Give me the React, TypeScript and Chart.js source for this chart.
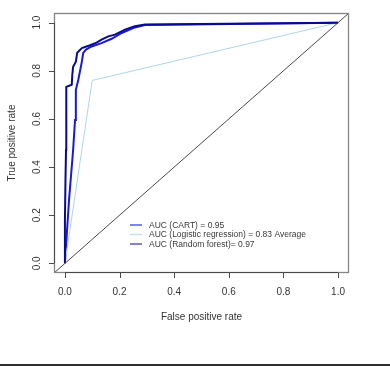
import React, { useEffect, useRef } from "react";
import { Chart, registerables } from "chart.js";

Chart.register(...registerables);

// ---- data ----
const tickValues = [0, 0.2, 0.4, 0.6, 0.8, 1.0];
const tickLabels = ["0.0", "0.2", "0.4", "0.6", "0.8", "1.0"];
const xTitle = "False positive rate";
const yTitle = "True positive rate";

const axisMin = -0.04;
const axisMax = 1.04;

const cartFpr = [0, 0.015, 0.03, 0.037, 0.04, 0.049, 0.061, 0.067, 0.077, 0.098, 0.134, 0.171, 0.208, 0.256, 0.293, 1];
const cartTpr = [0, 0.263, 0.471, 0.596, 0.721, 0.763, 0.832, 0.874, 0.888, 0.901, 0.915, 0.933, 0.957, 0.98, 0.99, 1];

const logitFpr = [0, 0.1, 1];
const logitTpr = [0, 0.76, 1];

const rfFpr = [0, 0, 0.002, 0.004, 0.004, 0.006, 0.025, 0.027, 0.03, 0.04, 0.045, 0.062, 0.092, 0.116, 0.134, 0.159, 0.183, 0.22, 0.256, 0.293, 1];
const rfTpr = [0, 0.179, 0.346, 0.471, 0.596, 0.733, 0.742, 0.783, 0.817, 0.838, 0.875, 0.894, 0.906, 0.917, 0.929, 0.943, 0.95, 0.971, 0.985, 0.992, 1];

const legendLabels = [
  "AUC (CART) = 0.95",
  "AUC (Logistic regression) = 0.83 Average",
  "AUC (Random forest)= 0.97",
];
const legendColors = ["#3f55f0", "#b8e2ea", "#5050b0"];

const FONT = "'Liberation Sans', Arial, sans-serif";

const toPts = (xs: number[], ys: number[]) => xs.map((x, i) => ({ x, y: ys[i] }));

const overlay = {
  id: "rOverlay",
  afterDraw(chart: any) {
    const ctx: CanvasRenderingContext2D = chart.ctx;
    const { left, right, top, bottom } = chart.chartArea;
    const xs = chart.scales.x;
    const ys = chart.scales.y;
    ctx.save();
    // box
    ctx.strokeStyle = "#858585";
    ctx.lineWidth = 1.3;
    ctx.strokeRect(left + 0.5, top + 0.5, right - left - 1, bottom - top - 1);
    // axes lines (on the box) + ticks
    ctx.strokeStyle = "#4a4a4a";
    ctx.lineWidth = 1;
    const x0 = xs.getPixelForValue(tickValues[0]);
    const x1 = xs.getPixelForValue(tickValues[tickValues.length - 1]);
    const y0 = ys.getPixelForValue(tickValues[0]);
    const y1 = ys.getPixelForValue(tickValues[tickValues.length - 1]);
    ctx.beginPath();
    ctx.moveTo(x0, bottom - 0.5);
    ctx.lineTo(x1, bottom - 0.5);
    ctx.moveTo(left + 0.5, y0);
    ctx.lineTo(left + 0.5, y1);
    tickValues.forEach((v) => {
      const px = Math.round(xs.getPixelForValue(v)) + 0.5;
      ctx.moveTo(px, bottom);
      ctx.lineTo(px, bottom + 5);
      const py = Math.round(ys.getPixelForValue(v)) + 0.5;
      ctx.moveTo(left, py);
      ctx.lineTo(left - 5, py);
    });
    ctx.stroke();
    // tick labels
    ctx.fillStyle = "#333";
    ctx.font = `10px ${FONT}`;
    ctx.textAlign = "center";
    ctx.textBaseline = "middle";
    tickValues.forEach((v, i) => {
      ctx.fillText(tickLabels[i], xs.getPixelForValue(v), bottom + 19);
    });
    tickValues.forEach((v, i) => {
      ctx.save();
      ctx.translate(left - 17, ys.getPixelForValue(v));
      ctx.rotate(-Math.PI / 2);
      ctx.fillText(tickLabels[i], 0, 0);
      ctx.restore();
    });
    // titles
    ctx.fillText(xTitle, (left + right) / 2, bottom + 44);
    ctx.save();
    ctx.translate(12, (top + bottom) / 2);
    ctx.rotate(-Math.PI / 2);
    ctx.fillText(yTitle, 0, 0);
    ctx.restore();
    // legend
    ctx.font = `8.5px ${FONT}`;
    ctx.textAlign = "left";
    const legY = [225, 234.5, 244];
    legendLabels.forEach((lab, i) => {
      ctx.strokeStyle = legendColors[i];
      ctx.lineWidth = 1.4;
      ctx.beginPath();
      ctx.moveTo(130, legY[i]);
      ctx.lineTo(142, legY[i]);
      ctx.stroke();
      ctx.fillStyle = "#383838";
      ctx.fillText(lab, 149, legY[i] + 0.5);
    });
    // bottom rule
    ctx.fillStyle = "#2e2e2e";
    ctx.fillRect(0, 364, chart.width, 2);
    ctx.restore();
  },
};

export default function App() {
  const ref = useRef<HTMLCanvasElement>(null);
  useEffect(() => {
    const chart = new Chart(ref.current as HTMLCanvasElement, {
      type: "line",
      data: {
        datasets: [
          {
            label: "diag",
            data: toPts([axisMin, axisMax], [axisMin, axisMax]),
            borderColor: "#4a4a4a",
            borderWidth: 1,
            order: 0,
          },
          {
            label: legendLabels[2],
            data: toPts(rfFpr, rfTpr),
            borderColor: "#0a0a90",
            borderWidth: 2,
            order: 1,
          },
          {
            label: legendLabels[1],
            data: toPts(logitFpr, logitTpr),
            borderColor: "#aad8e4",
            borderWidth: 1,
            order: 2,
          },
          {
            label: legendLabels[0],
            data: toPts(cartFpr, cartTpr),
            borderColor: "#1a1ad0",
            borderWidth: 2,
            order: 3,
          },
        ] as any,
      },
      options: {
        responsive: false,
        animation: false,
        devicePixelRatio: 1,
        layout: { padding: { left: 54, right: 41, top: 13, bottom: 93 } },
        elements: { point: { radius: 0 }, line: { tension: 0, fill: false } },
        plugins: { legend: { display: false }, tooltip: { enabled: false } },
        scales: {
          x: { type: "linear", min: axisMin, max: axisMax, display: false },
          y: { type: "linear", min: axisMin, max: axisMax, display: false },
        },
      } as any,
      plugins: [overlay],
    });
    return () => chart.destroy();
  }, []);
  return (
    <div style={{ position: "fixed", left: 0, top: 0, width: 390, height: 366, background: "#fff" }}>
      <canvas ref={ref} width={390} height={366} style={{ display: "block" }} />
    </div>
  );
}
